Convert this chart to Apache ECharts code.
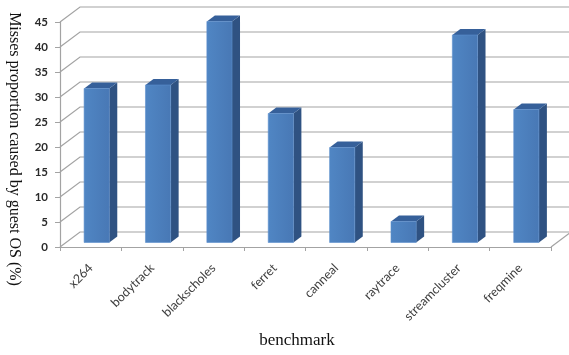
<!DOCTYPE html>
<html>
<head>
<meta charset="utf-8">
<script src="https://cdn.jsdelivr.net/npm/echarts@6/dist/echarts.min.js"></script>
<style>
  html, body { margin: 0; padding: 0; background: #fff; }
  #chart { width: 569px; height: 355px; }
</style>
</head>
<body>
<div id="chart"></div>
<script>
// Benchmarks and the share of misses attributed to the guest OS (%)
const benchmarks = ['x264', 'bodytrack', 'blackscholes', 'ferret', 'canneal', 'raytrace', 'streamcluster', 'freqmine'];
const missShare = [30.8, 31.5, 44.2, 25.8, 19.0, 4.2, 41.5, 26.6];
const yTicks = [0, 5, 10, 15, 20, 25, 30, 35, 40, 45];

// pseudo-3D depth vector (pixels) from the front plane to the back wall
const DEPTH_X = 20;
const DEPTH_Y = -15;
const BAR_FRONT = 0.3;   // bar front face, as a fraction of the depth
const BAR_DEPTH = 0.4;   // bar thickness, as a fraction of the depth
const BAR_WIDTH = 0.41;  // share of a category band

const GRID_COLOR = '#a3a3a3';

const chart = echarts.init(document.getElementById('chart'), null, { renderer: 'canvas' });

// back wall, side wall and floor edge for each value gridline
function renderWall(params, api) {
  const cs = params.coordSys;
  const v = api.value(1);
  const y = api.coord([0, v])[1];
  const style = { stroke: GRID_COLOR, lineWidth: 1.2, fill: null };
  const children = [{
    type: 'polyline',
    shape: { points: [[cs.x, y], [cs.x + DEPTH_X, y + DEPTH_Y], [cs.x + cs.width + DEPTH_X, y + DEPTH_Y]] },
    style: style
  }];
  if (v === 0) {
    children.push({
      type: 'line',
      shape: { x1: cs.x + cs.width, y1: y, x2: cs.x + cs.width + DEPTH_X, y2: y + DEPTH_Y },
      style: style
    });
  }
  return { type: 'group', children: children };
}

// one 3D column: front face, right side face and top face
function renderBar(params, api) {
  const i = api.value(0);
  const v = api.value(1);
  const base = api.coord([i, 0]);
  const top = api.coord([i, v]);
  const band = api.size([1, 0])[0];
  const w = band * BAR_WIDTH;
  const fx = base[0] - w / 2 + BAR_FRONT * DEPTH_X;
  const fy0 = base[1] + BAR_FRONT * DEPTH_Y;
  const fy1 = top[1] + BAR_FRONT * DEPTH_Y;
  const ddx = BAR_DEPTH * DEPTH_X;
  const ddy = BAR_DEPTH * DEPTH_Y;
  return {
    type: 'group',
    children: [
      {
        type: 'polygon',
        shape: { points: [[fx + w, fy1], [fx + w + ddx, fy1 + ddy], [fx + w + ddx, fy0 + ddy], [fx + w, fy0]] },
        style: { fill: '#2f5282' }
      },
      {
        type: 'polygon',
        shape: { points: [[fx, fy1], [fx + ddx, fy1 + ddy], [fx + w + ddx, fy1 + ddy], [fx + w, fy1]] },
        style: { fill: '#36609a' }
      },
      {
        type: 'rect',
        shape: { x: fx, y: fy1, width: w, height: fy0 - fy1 },
        style: {
          fill: new echarts.graphic.LinearGradient(0, 0, 1, 0, [
            { offset: 0, color: '#5086c4' },
            { offset: 1, color: '#4878b5' }
          ]),
          stroke: '#5c8fcc',
          lineWidth: 0.6
        }
      }
    ]
  };
}

chart.setOption({
  animation: false,
  backgroundColor: '#ffffff',
  grid: { left: 60, right: 18, top: 22, bottom: 108, containLabel: false },
  xAxis: {
    type: 'category',
    data: benchmarks,
    boundaryGap: true,
    axisLine: { show: true, lineStyle: { color: GRID_COLOR, width: 1.2 } },
    axisTick: { show: true, length: 4, interval: 0, alignWithLabel: false, lineStyle: { color: GRID_COLOR } },
    axisLabel: {
      interval: 0,
      rotate: 45,
      margin: 19,
      color: '#404040',
      fontFamily: 'Lato',
      fontSize: 12.5
    },
    splitLine: { show: false }
  },
  yAxis: {
    type: 'value',
    min: 0,
    max: 45,
    interval: 5,
    axisLine: { show: true, lineStyle: { color: GRID_COLOR, width: 1.2 } },
    axisTick: { show: true, length: 5, lineStyle: { color: GRID_COLOR } },
    axisLabel: {
      margin: 12,
      color: '#2a2a2a',
      fontFamily: 'Lato',
      fontSize: 11.5,
      fontWeight: 'bold'
    },
    splitLine: { show: false }
  },
  graphic: [
    {
      type: 'text',
      x: 14.5,
      y: 149,
      rotation: -Math.PI / 2,
      style: {
        text: 'Misses proportion caused by guest OS (%)',
        font: '16px "Liberation Serif"',
        fill: '#111',
        textAlign: 'center',
        textVerticalAlign: 'middle',
        verticalAlign: 'middle'
      }
    },
    {
      type: 'text',
      x: 297,
      y: 341,
      style: {
        text: 'benchmark',
        font: '17px "Liberation Serif"',
        fill: '#111',
        textAlign: 'center',
        textVerticalAlign: 'middle',
        verticalAlign: 'middle'
      }
    }
  ],
  series: [
    {
      type: 'custom',
      name: 'walls',
      silent: true,
      clip: false,
      z: 1,
      renderItem: renderWall,
      data: yTicks.map(v => [0, v])
    },
    {
      type: 'custom',
      name: 'misses',
      clip: false,
      z: 3,
      renderItem: renderBar,
      data: missShare.map((v, i) => [i, v])
    }
  ]
});
</script>
</body>
</html>
